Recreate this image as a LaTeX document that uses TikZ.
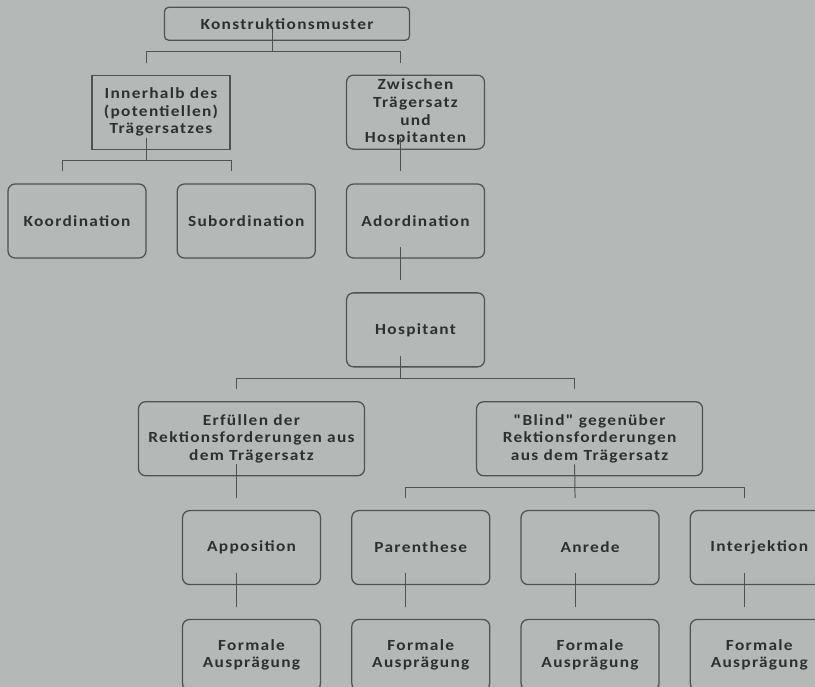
\documentclass[tikz,border=0pt]{standalone}
\usepackage{fontspec}
\setmainfont{Carlito}[FakeStretch=1.12, LetterSpace=8.5, Ligatures=TeXOff]
\usepackage{tikz}
\usetikzlibrary{positioning}

\definecolor{paper}{RGB}{180,185,184}
\definecolor{boxline}{RGB}{78,82,82}
\definecolor{ink}{RGB}{45,48,48}

\begin{document}
\begin{tikzpicture}[
	font=\bfseries\fontsize{11}{12.6}\selectfont,
	node distance=0.84cm and 0.75cm,
	box/.style={rectangle, rounded corners=5pt, draw=boxline, line width=0.9pt, text=ink, minimum width=3.45cm, minimum height=1.85cm, align=center, inner sep=2pt},
	wide/.style={box, minimum width=5.65cm},
	headbox/.style={box, rounded corners=3pt, minimum width=6.125cm, minimum height=0.825cm},
	formbox/.style={box, minimum height=1.77cm},
	link/.style={draw=boxline, line width=0.7pt},
	inset/.style={xshift=-0.375cm, yshift=0.3cm},
	drop/.style={xshift=-0.375cm, yshift=-0.27cm}
]

\useasboundingbox (0,0) rectangle (20.375,-17.175);
\fill[paper] (0,0) rectangle (20.375,-17.175);

% --- Upper tree ---
\node[box] (koord) at (1.925,-5.525) {Koordination};
\node[box, right=of koord] (sub) {Subordination};
\node[box, right=of sub] (ador) {Adordination};
\node[box, sharp corners, above=of koord, xshift=2.1cm] (inn) {Innerhalb des\\(potentiellen)\\Trägersatzes};
\node[box, above=of ador] (zw) {Zwischen\\Trägersatz\\und\\Hospitanten};
\node[headbox, above=of inn, xshift=3.15cm] (muster) {Konstruktionsmuster};
\node[box, below=of ador] (hosp) {Hospitant};

\draw[link] ([inset]muster.south) -- ([drop]muster.south);
\draw[link] ([inset]inn.north) |- ([drop]muster.south) -| ([inset]zw.north);
\draw[link] ([inset]inn.south) -- ([drop]inn.south);
\draw[link] ([inset]koord.north) |- ([drop]inn.south) -| ([inset]sub.north);
\draw[link] ([inset]zw.south) -- ([inset]ador.north);
\draw[link] ([inset]ador.south) -- ([inset]hosp.north);

% --- Hospitant ---
\node[wide, below=of hosp, xshift=-4.1cm] (erf) {Erfüllen der\\Rektionsforderungen aus\\dem Trägersatz};
\node[wide, right=2.77cm of erf] (blind) {"Blind" gegenüber\\Rektionsforderungen\\aus dem Trägersatz};

\draw[link] ([inset]hosp.south) -- ([drop]hosp.south);
\draw[link] ([inset]erf.north) |- ([drop]hosp.south) -| ([inset]blind.north);

\node[box, below=of erf] (app) {Apposition};
\node[box, right=of app] (par) {Parenthese};
\node[box, right=of par] (anr) {Anrede};
\node[box, right=of anr] (inter) {Interjektion};

\draw[link] ([inset]erf.south) -- ([inset]app.north);
\draw[link] ([inset]blind.south) -- ([inset]anr.north);
\draw[link] ([inset]par.north) |- ([drop]blind.south) -| ([inset]inter.north);

% --- Formale Auspraegung ---
\foreach \n in {app,par,anr,inter} {
  \node[formbox, below=of \n] (f-\n) {Formale\\Ausprägung};
  \draw[link] ([inset]\n.south) -- ([inset]f-\n.north);
}

\end{tikzpicture}
\end{document}
